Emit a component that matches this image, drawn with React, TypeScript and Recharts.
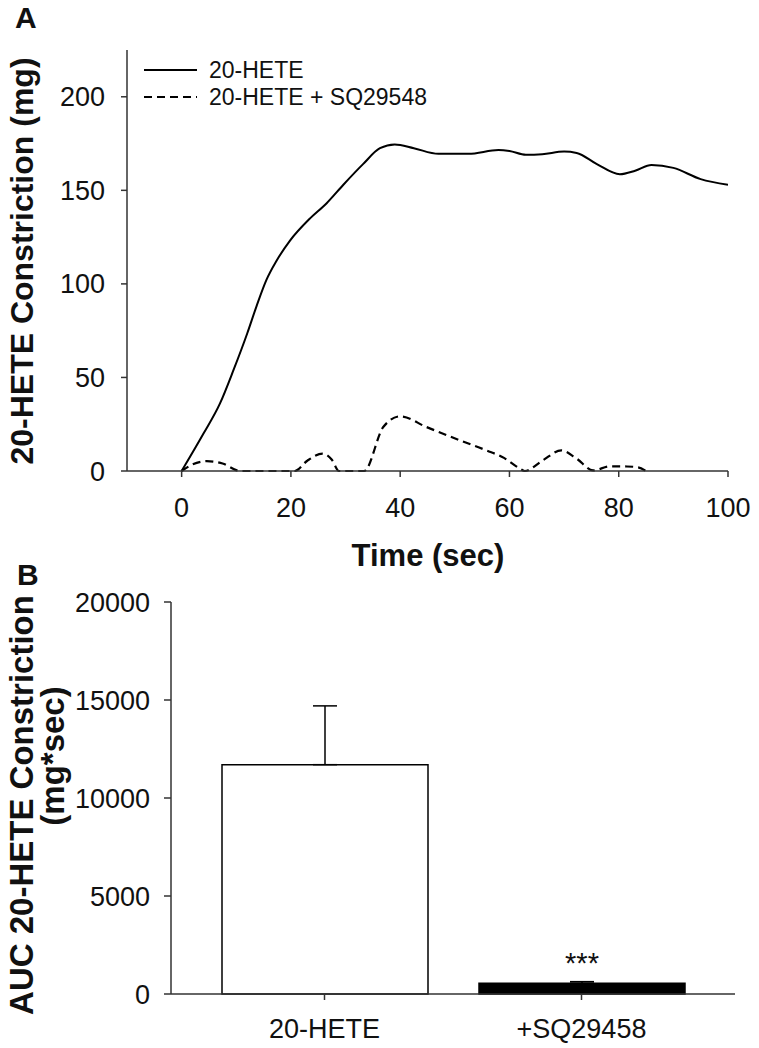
import {
  LineChart, Line, BarChart, Bar, Cell, ErrorBar, LabelList,
  XAxis, YAxis, Legend,
} from 'recharts';

// Panel A: time course (sec, mg)
const hete20Time = [0, 4, 7, 9.5, 12, 13.7, 15.5, 17.4, 19.8, 23.5, 26.5, 29.6, 33.2, 36.3, 39, 42.5, 47, 52.5, 58, 60, 63, 66, 70, 72.3, 76, 80.2, 83, 86, 90, 95, 100];
const hete20Value = [0, 20, 36, 54, 73.5, 88, 102, 112.5, 123, 135, 143, 153, 164, 172.5, 174.5, 172.5, 169.5, 169.5, 171.5, 171, 169, 169.3, 170.7, 170, 164, 158.6, 160.5, 163.6, 162, 156, 153];

const sqTime = [0, 2, 4.6, 7.5, 10.7, 20.7, 23, 25.8, 27.5, 28.8, 33.4, 36.9, 40, 44.8, 50.9, 55.8, 59, 61.9, 62.8, 66.1, 69.5, 72.3, 75.3, 78.4, 81.5, 83.5, 85];
const sqValue = [0, 3.5, 5.3, 4, 0, 0, 5.5, 9.3, 6, 0, 0, 23.5, 29.2, 23.5, 16.4, 11, 7, 1.3, 0, 5.7, 11, 6.6, 0.3, 2.5, 2.4, 2, 0];

const timeTicks = [0, 20, 40, 60, 80, 100];
const constrictionTicks = [0, 50, 100, 150, 200];
const legendLabels = ['20-HETE', '20-HETE + SQ29548'];

// Panel B: AUC
const groups = ['20-HETE', '+SQ29458'];
const aucMean = [11700, 550];
const aucSem = [3000, 80];
const significance = ['', '***'];
const aucTicks = [0, 5000, 10000, 15000, 20000];

const FONT = 'Arial, "Liberation Sans", Helvetica, sans-serif';
const INK = '#111';
const AXIS = '#333';

const hete20Data = hete20Time.map((t, i) => ({ t, v: hete20Value[i] }));
const sqData = sqTime.map((t, i) => ({ t, v: sqValue[i] }));
const aucData = groups.map((group, i) => ({
  group,
  auc: aucMean[i],
  err: [0, aucSem[i]],
  sig: significance[i],
}));

const tickStyle = { fontSize: 27, fill: INK, fontFamily: FONT };
const axisLine = { stroke: AXIS, strokeWidth: 1.5 };

function LegendBox() {
  return (
    <svg width={320} height={60} style={{ display: 'block' }}>
      {legendLabels.map((name, i) => (
        <g key={name} transform={`translate(0, ${i * 27})`}>
          <line
            x1={4} x2={57} y1={15} y2={15}
            stroke="#000" strokeWidth={2}
            strokeDasharray={i === 1 ? '8 5' : undefined}
          />
          <text x={69} y={15} dy="0.35em" fontSize={23} fill={INK} fontFamily={FONT}>
            {name}
          </text>
        </g>
      ))}
    </svg>
  );
}

function TimeCourse() {
  return (
    <LineChart width={759} height={560} margin={{ top: 50, right: 31, bottom: 29, left: 27 }}>
      <XAxis
        type="number"
        dataKey="t"
        domain={[-10, 100]}
        ticks={timeTicks}
        allowDataOverflow
        height={60}
        tickSize={6}
        tickMargin={21}
        tick={tickStyle}
        axisLine={axisLine}
        tickLine={axisLine}
      />
      <YAxis
        type="number"
        domain={[0, 225]}
        ticks={constrictionTicks}
        width={100}
        tickSize={6}
        tickMargin={16}
        tick={tickStyle}
        axisLine={axisLine}
        tickLine={axisLine}
      />
      <Legend
        layout="vertical"
        align="center"
        verticalAlign="middle"
        content={() => <LegendBox />}
        wrapperStyle={{ position: 'absolute', left: 140, top: 55, width: 320, height: 60 }}
      />
      <Line
        data={hete20Data}
        dataKey="v"
        name="20-HETE"
        type="monotone"
        stroke="#000"
        strokeWidth={2}
        dot={false}
        isAnimationActive={false}
      />
      <Line
        data={sqData}
        dataKey="v"
        name="20-HETE + SQ29548"
        type="monotone"
        stroke="#000"
        strokeWidth={2.2}
        strokeDasharray="8 5"
        dot={false}
        isAnimationActive={false}
      />
    </LineChart>
  );
}

function AucBars() {
  return (
    <BarChart
      width={759}
      height={488}
      data={aucData}
      margin={{ top: 42, right: 24, bottom: 4, left: 71 }}
    >
      <XAxis
        dataKey="group"
        padding={{ left: 25, right: 25 }}
        height={50}
        tickSize={6}
        tickMargin={19}
        tick={tickStyle}
        axisLine={axisLine}
        tickLine={axisLine}
      />
      <XAxis
        xAxisId="top"
        orientation="top"
        dataKey="group"
        height={0}
        tick={false}
        tickLine={false}
        axisLine={axisLine}
      />
      <YAxis
        domain={[0, 20000]}
        ticks={aucTicks}
        width={100}
        tickSize={7}
        tickMargin={14}
        tick={tickStyle}
        axisLine={axisLine}
        tickLine={axisLine}
      />
      <YAxis
        yAxisId="right"
        orientation="right"
        domain={[0, 20000]}
        width={0}
        tick={false}
        tickLine={false}
        axisLine={axisLine}
      />
      <Bar dataKey="auc" barSize={206} stroke="#000" strokeWidth={1.5} isAnimationActive={false}>
        {aucData.map((d, i) => (
          <Cell key={d.group} fill={i === 0 ? '#fff' : '#000'} />
        ))}
        <ErrorBar dataKey="err" direction="y" width={12} stroke="#000" strokeWidth={1.5} />
        <LabelList dataKey="sig" position="top" offset={10} style={{ fontSize: 29, fill: INK, fontFamily: FONT }} />
      </Bar>
    </BarChart>
  );
}

function Titles() {
  return (
    <svg
      width={759}
      height={1048}
      style={{ position: 'absolute', left: 0, top: 0, pointerEvents: 'none' }}
      fontFamily={FONT}
      fill={INK}
      fontWeight="bold"
    >
      <text x={15} y={28} fontSize={30}>A</text>
      <text transform="translate(33, 261) rotate(-90)" textAnchor="middle" fontSize={32}>
        20-HETE Constriction (mg)
      </text>
      <text x={428} y={566} textAnchor="middle" fontSize={31}>Time (sec)</text>

      <text x={17} y={585} fontSize={30}>B</text>
      <text transform="translate(33, 805) rotate(-90)" textAnchor="middle" fontSize={33}>
        AUC 20-HETE Constriction
      </text>
      <text transform="translate(64, 756) rotate(-90)" textAnchor="middle" fontSize={33}>
        (mg*sec)
      </text>
    </svg>
  );
}

export default function App() {
  return (
    <div
      style={{
        position: 'absolute', left: 0, top: 0, width: 759, height: 1048,
        background: '#fff', fontFamily: FONT, overflow: 'hidden',
      }}
    >
      <div style={{ position: 'absolute', left: 0, top: 0 }}>
        <TimeCourse />
      </div>
      <div style={{ position: 'absolute', left: 0, top: 560 }}>
        <AucBars />
      </div>
      <Titles />
    </div>
  );
}
